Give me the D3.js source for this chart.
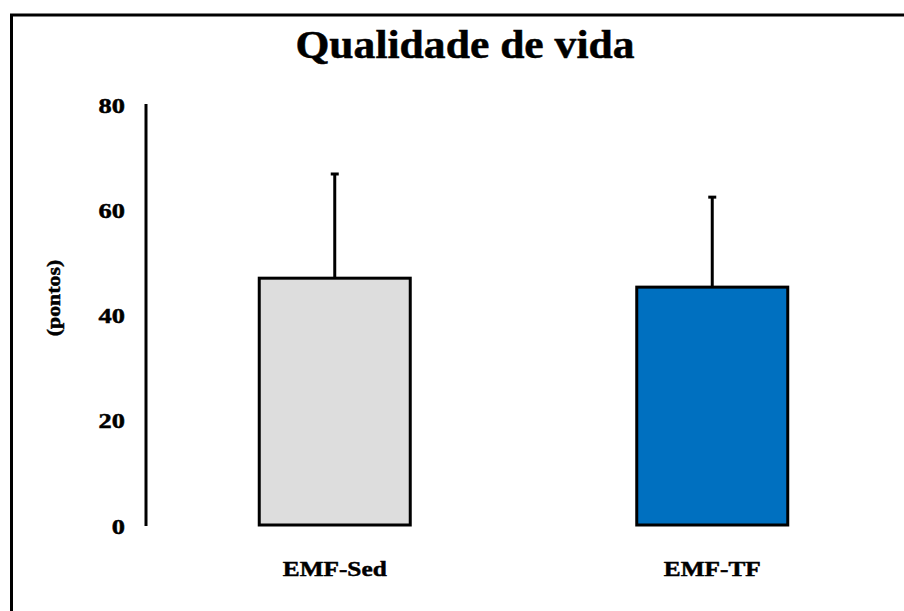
<!DOCTYPE html>
<html>
  <head>
    <meta charset="utf-8">
    <title>Qualidade de vida</title>
    <script src="https://d3js.org/d3.v7.min.js"></script>
    <style>
      body { margin: 0; background: #fff; }
      svg { display: block; }
      .lbl { stroke: #000; stroke-width: 0.5px; fill: #000; }
    </style>
  </head>
  <body>
    <svg id="chart" width="904" height="611"></svg>
    <script>
      // data
      var groups = ["EMF-Sed", "EMF-TF"];
      var means = [46.9, 45.2];
      var errors = [19.8, 17.1];
      var colours = ["#dddddd", "#0070c0"];
      var yTicks = [0, 20, 40, 60, 80];

      var serif = "'Liberation Serif'";
      var svg = d3.select("#chart");

      // outer frame (runs off the right and bottom edge)
      svg.append("rect")
        .attr("x", 11.5)
        .attr("y", 15)
        .attr("width", 920)
        .attr("height", 620)
        .attr("fill", "none")
        .attr("stroke", "#000")
        .attr("stroke-width", 3);

      // scales
      var x = d3.scaleBand()
        .domain(groups)
        .range([146, 901])
        .paddingInner(0.6)
        .paddingOuter(0.3);
      var y = d3.scaleLinear()
        .domain([0, 80])
        .range([525, 104]);

      // title (source is slightly stretched horizontally)
      svg.append("text")
        .classed("lbl", true)
        .attr("transform", "translate(465, 58) scale(1.09, 1)")
        .attr("text-anchor", "middle")
        .style("font-family", serif)
        .style("font-weight", "bold")
        .style("font-size", "40px")
        .text("Qualidade de vida");

      // y axis
      var axis = d3.axisLeft(y)
        .tickValues(yTicks)
        .tickSize(0)
        .tickPadding(0)
        .tickFormat("");
      var axisGroup = svg.append("g")
        .attr("transform", "translate(146, 0)")
        .call(axis);
      axisGroup.select(".domain")
        .attr("stroke", "#000")
        .attr("stroke-width", 3)
        .attr("d", "M0," + y(80) + "V" + (y(0) + 1));
      axisGroup.selectAll(".tick")
        .append("text")
          .classed("lbl", true)
          .attr("transform", "translate(-21, 8) scale(1.2, 1)")
          .attr("text-anchor", "end")
          .style("font-family", serif)
          .style("font-weight", "bold")
          .style("font-size", "22px")
          .text(function(d) { return d; });

      svg.append("text")
        .classed("lbl", true)
        .attr("transform", "translate(60, 298) rotate(-90) scale(1.15, 1)")
        .attr("text-anchor", "middle")
        .style("font-family", serif)
        .style("font-weight", "bold")
        .style("font-size", "19px")
        .text("(pontos)");

      // error bars
      var err = svg.selectAll(".err")
          .data(groups)
        .enter().append("g")
          .classed("err", true);
      err.append("line")
        .attr("x1", function(d) { return x(d) + x.bandwidth() / 2; })
        .attr("x2", function(d) { return x(d) + x.bandwidth() / 2; })
        .attr("y1", function(d, i) { return y(means[i]); })
        .attr("y2", function(d, i) { return y(means[i] + errors[i]); })
        .attr("stroke", "#000")
        .attr("stroke-width", 3);
      err.append("line")
        .attr("x1", function(d) { return x(d) + x.bandwidth() / 2 - 4; })
        .attr("x2", function(d) { return x(d) + x.bandwidth() / 2 + 4; })
        .attr("y1", function(d, i) { return y(means[i] + errors[i]); })
        .attr("y2", function(d, i) { return y(means[i] + errors[i]); })
        .attr("stroke", "#000")
        .attr("stroke-width", 3);

      // bars
      svg.selectAll(".bar")
          .data(groups)
        .enter().append("rect")
          .classed("bar", true)
          .attr("x", function(d) { return x(d); })
          .attr("y", function(d, i) { return y(means[i]); })
          .attr("width", x.bandwidth())
          .attr("height", function(d, i) { return y(0) - y(means[i]); })
          .attr("fill", function(d, i) { return colours[i]; })
          .attr("stroke", "#000")
          .attr("stroke-width", 3);

      // category labels
      svg.selectAll(".cat")
          .data(groups)
        .enter().append("text")
          .classed("cat lbl", true)
          .attr("transform", function(d) { return "translate(" + (x(d) + x.bandwidth() / 2) + ", 576) scale(1.15, 1)"; })
          .attr("text-anchor", "middle")
          .style("font-family", serif)
          .style("font-weight", "bold")
          .style("font-size", "22px")
          .text(function(d) { return d; });
    </script>
  </body>
</html>
